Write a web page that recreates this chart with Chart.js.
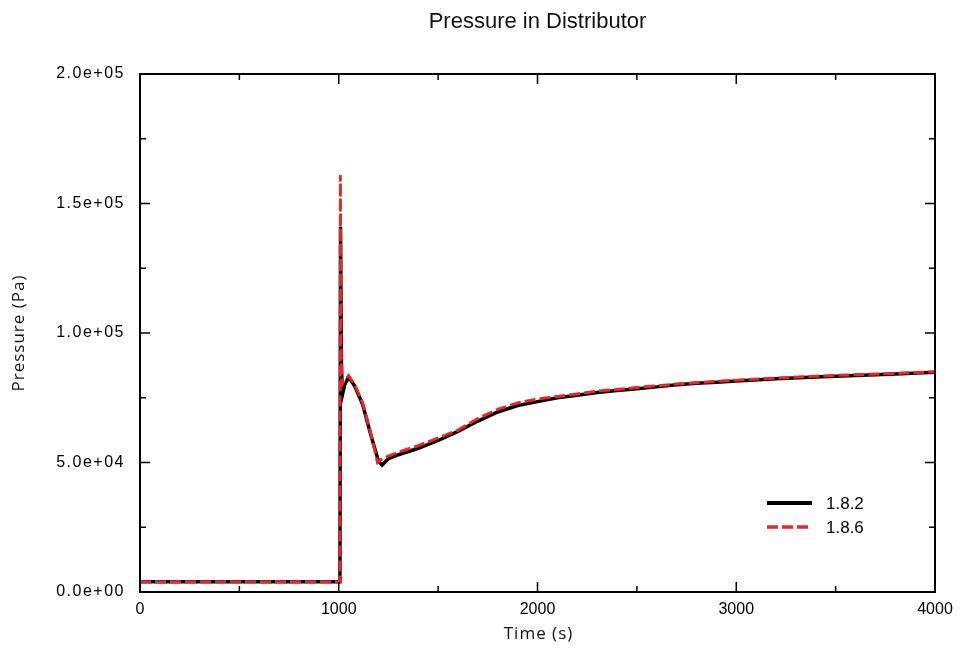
<!DOCTYPE html>
<html>
<head>
<meta charset="utf-8">
<script src="https://cdn.jsdelivr.net/npm/chart.js@4/dist/chart.umd.min.js"></script>
<style>
  html, body { margin: 0; padding: 0; background: #fff; }
  #wrap { width: 962px; height: 652px; }
</style>
</head>
<body>
<div id="wrap"><canvas id="c" width="962" height="652"></canvas></div>
<script>
const chartTitle = 'Pressure in Distributor';
const xTitle = 'Time (s)';
const yTitle = 'Pressure (Pa)';
const seriesLabels = ['1.8.2', '1.8.6'];

const xTicksMajor = [0, 1000, 2000, 3000, 4000];
const xTicksMinor = [500, 1500, 2500, 3500];
const yTicksMajor = [0, 50000, 100000, 150000, 200000];
const yTicksMinor = [25000, 75000, 125000, 175000];

const time182 = [0, 1006, 1009, 1013, 1018, 1030, 1050, 1080, 1120, 1160, 1200, 1218, 1250, 1300, 1400, 1500, 1600, 1700, 1800, 1900, 2000, 2100, 2200, 2300, 2400, 2500, 2600, 2700, 2800, 2900, 3000, 3200, 3400, 3600, 3800, 4000];
const pressure182 = [4000, 4000, 141000, 90000, 76000, 80000, 83000, 79500, 72500, 61000, 50500, 49000, 51500, 53000, 55500, 58500, 62000, 66000, 69500, 72000, 73500, 75000, 76000, 77000, 77800, 78500, 79200, 80000, 80600, 81000, 81500, 82300, 83000, 83600, 84200, 84800];

const time186 = [0, 1006, 1008, 1011, 1015, 1030, 1050, 1080, 1120, 1160, 1195, 1210, 1250, 1300, 1400, 1500, 1600, 1700, 1800, 1900, 2000, 2100, 2200, 2300, 2400, 2500, 2600, 2700, 2800, 2900, 3000, 3200, 3400, 3600, 3800, 4000];
const pressure186 = [4000, 4000, 161000, 100000, 80000, 82000, 83500, 80000, 73000, 61500, 50000, 51000, 52500, 54000, 56500, 59500, 62500, 67000, 70500, 73000, 74500, 75500, 76500, 77500, 78200, 79000, 79600, 80300, 80800, 81300, 81800, 82600, 83300, 83900, 84400, 85000];

const toPoints = (xs, ys) => xs.map((x, i) => ({ x: x, y: ys[i] }));

const FONT = '"Liberation Sans", Arial, Helvetica, sans-serif';
const FONT2 = '"Open Sans", "Noto Sans", sans-serif';

const framePlugin = {
  id: 'frame',
  afterDatasetsDraw(chart) {
    const { ctx, chartArea: a, scales } = chart;
    const xs = scales.x, ys = scales.y;
    ctx.save();
    ctx.strokeStyle = '#000';
    ctx.lineWidth = 2;
    ctx.strokeRect(a.left, a.top, a.right - a.left, a.bottom - a.top);
    ctx.lineWidth = 1.5;
    const tick = (vals, len) => {
      vals.forEach(v => {
        const px = xs.getPixelForValue(v);
        ctx.beginPath();
        ctx.moveTo(px, a.bottom); ctx.lineTo(px, a.bottom - len);
        ctx.moveTo(px, a.top); ctx.lineTo(px, a.top + len);
        ctx.stroke();
      });
    };
    const ytick = (vals, len) => {
      vals.forEach(v => {
        const py = ys.getPixelForValue(v);
        ctx.beginPath();
        ctx.moveTo(a.left, py); ctx.lineTo(a.left + len, py);
        ctx.moveTo(a.right, py); ctx.lineTo(a.right - len, py);
        ctx.stroke();
      });
    };
    tick(xTicksMajor, 10); tick(xTicksMinor, 6);
    ytick(yTicksMajor, 10); ytick(yTicksMinor, 6);

    // legend
    const ds = chart.data.datasets;
    let ly = 503;
    ctx.font = '17px ' + FONT;
    ctx.textBaseline = 'middle';
    ctx.textAlign = 'left';
    seriesLabels.map(l => ds.find(d => d.label === l)).forEach(d => {
      ctx.beginPath();
      ctx.strokeStyle = d.borderColor;
      ctx.lineWidth = d.borderWidth + 0.5;
      ctx.setLineDash(d.borderDash || []);
      ctx.moveTo(767, ly); ctx.lineTo(812, ly);
      ctx.stroke();
      ctx.setLineDash([]);
      ctx.fillStyle = '#000';
      ctx.fillText(d.label, 826, ly + 1);
      ly += 24;
    });

    // titles
    ctx.fillStyle = '#111';
    ctx.font = '22px ' + FONT;
    ctx.textAlign = 'center';
    ctx.textBaseline = 'middle';
    ctx.fillText(chartTitle, (a.left + a.right) / 2, 22);
    ctx.font = '17px ' + FONT2;
    ctx.letterSpacing = '1px';
    ctx.fillText(xTitle, (a.left + a.right) / 2 + 1, 634);
    ctx.save();
    ctx.translate(19, (a.top + a.bottom) / 2);
    ctx.rotate(-Math.PI / 2);
    ctx.fillText(yTitle, 0, 0);
    ctx.restore();
    ctx.restore();
  }
};

new Chart(document.getElementById('c'), {
  type: 'line',
  data: {
    datasets: [
      {
        label: seriesLabels[0],
        data: toPoints(time182, pressure182),
        borderColor: '#000000',
        borderWidth: 3.5,
        pointRadius: 0,
        tension: 0,
        order: 2
      },
      {
        label: seriesLabels[1],
        data: toPoints(time186, pressure186),
        borderColor: '#e8262b',
        borderWidth: 3,
        borderDash: [11, 4],
        pointRadius: 0,
        tension: 0,
        order: 1
      }
    ]
  },
  options: {
    responsive: false,
    animation: false,
    layout: { padding: { top: 74, right: 27, left: 0, bottom: 0 } },
    plugins: {
      legend: { display: false },
      title: { display: false },
      tooltip: { enabled: false }
    },
    scales: {
      x: {
        type: 'linear',
        min: 0, max: 4000,
        afterFit(s) { s.height = 60; },
        afterBuildTicks(s) { s.ticks = xTicksMajor.map(v => ({ value: v })); },
        grid: { display: false, drawTicks: false },
        border: { display: false },
        ticks: {
          color: '#000',
          padding: 8,
          maxRotation: 0,
          font: { family: FONT, size: 16 },
          callback: v => String(v)
        }
      },
      y: {
        type: 'linear',
        min: 0, max: 200000,
        afterFit(s) {
          s.width = 140;
          if (!s._spaced) {
            const orig = s.drawLabels.bind(s);
            s.drawLabels = function (area) {
              const c = this.ctx;
              c.save();
              c.letterSpacing = '1.5px';
              orig(area);
              c.restore();
            };
            s._spaced = true;
          }
        },
        afterBuildTicks(s) { s.ticks = yTicksMajor.map(v => ({ value: v })); },
        grid: { display: false, drawTicks: false },
        border: { display: false },
        ticks: {
          color: '#000',
          padding: 15,
          font: { family: FONT, size: 16 },
          callback: v => {
            const e = v === 0 ? 0 : Math.floor(Math.log10(v));
            const m = v / Math.pow(10, e);
            return m.toFixed(1) + 'e+' + String(e).padStart(2, '0');
          }
        }
      }
    }
  },
  plugins: [framePlugin]
});
</script>
</body>
</html>
